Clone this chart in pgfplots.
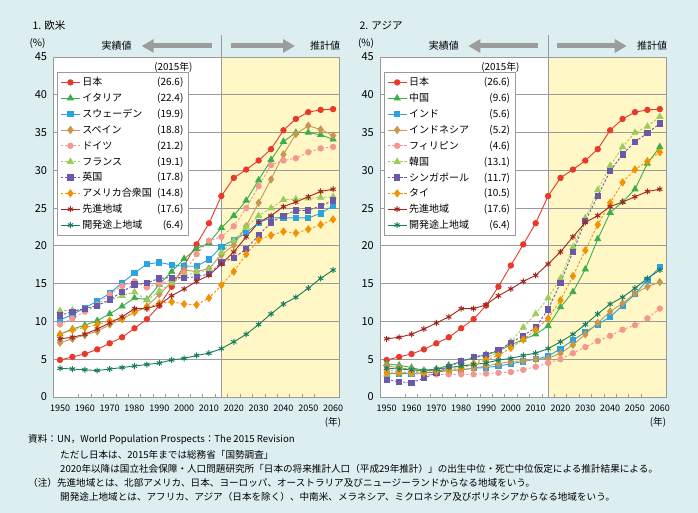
\documentclass[border=0pt]{standalone}
\usepackage{fontspec}
\setmainfont{Noto Sans CJK JP}
\usepackage{pgfplots}
\pgfplotsset{compat=1.18}
\usepackage{pgfplotstable}
\usetikzlibrary{arrows.meta}

\definecolor{bgc}{HTML}{DDEEF1}
\definecolor{yel}{HTML}{FFF8C6}
\definecolor{gridc}{HTML}{9A9A9A}
\definecolor{arr}{HTML}{9C9C9C}
\definecolor{cjp}{HTML}{E8392A}
\definecolor{cgr}{HTML}{3DAE49}
\definecolor{cbl}{HTML}{2AA3E0}
\definecolor{ctn}{HTML}{C9964F}
\definecolor{csa}{HTML}{F4978E}
\definecolor{clg}{HTML}{9ACD5B}
\definecolor{cpu}{HTML}{6B58A8}
\definecolor{cor}{HTML}{F39200}
\definecolor{cdv}{HTML}{A4261E}
\definecolor{cld}{HTML}{177D5E}

\pgfplotstableread{
year jp it se es de fr uk us dv ld
1950 4.9 8.3 10.2 7.2 9.6 11.4 10.8 8.3 7.7 3.8
1955 5.3 9.0 10.9 7.7 10.4 11.5 11.3 8.9 7.9 3.7
1960 5.7 9.5 11.8 8.2 11.3 11.6 11.7 9.2 8.3 3.6
1965 6.3 10.1 12.7 8.7 12.2 12.1 12.1 9.6 9.0 3.5
1970 7.1 11.0 13.7 9.6 13.6 12.8 12.9 10.1 9.8 3.7
1975 7.9 12.0 15.1 10.3 14.7 13.4 13.9 10.4 10.6 3.9
1980 9.1 13.1 16.4 11.2 15.3 13.9 14.9 11.3 11.7 4.1
1985 10.3 12.9 17.6 12.0 14.5 12.8 15.1 11.8 11.7 4.3
1990 12.1 14.9 17.8 13.6 15.0 14.0 15.7 12.4 12.2 4.5
1995 14.6 16.6 17.5 15.2 15.5 15.1 15.8 12.6 13.4 4.9
2000 17.4 18.3 17.3 16.8 16.4 16.0 15.8 12.3 14.3 5.1
2005 20.2 19.6 17.3 16.6 18.9 16.5 15.9 12.2 15.3 5.5
2010 23.0 20.4 18.2 17.0 20.7 16.8 16.3 13.1 16.1 5.8
2015 26.6 22.4 19.9 18.8 21.2 19.1 17.8 14.8 17.6 6.4
2020 29.0 24.0 20.8 20.1 22.6 20.7 18.4 16.6 19.2 7.3
2025 30.1 26.0 21.7 22.6 25.0 22.5 19.6 18.9 21.2 8.3
2030 31.3 28.7 23.1 25.7 27.9 24.0 21.4 20.8 23.1 9.6
2035 32.8 31.4 23.7 28.8 30.7 25.0 23.1 21.4 24.0 11.0
2040 35.3 33.8 23.7 32.1 31.3 26.1 24.0 21.9 25.2 12.3
2045 36.8 35.0 23.7 34.8 31.6 26.2 24.7 21.7 25.8 13.2
2050 37.7 35.0 23.7 35.9 32.4 26.3 24.7 22.2 26.5 14.4
2055 38.0 34.7 24.3 35.4 32.9 26.4 25.3 22.8 27.2 15.7
2060 38.1 34.1 25.3 34.6 33.1 26.5 26.0 23.5 27.5 16.8
}\tabEU

\pgfplotstableread{
year jp cn in id ph kr sg th dv ld
1950 4.9 4.4 3.1 4.1 3.6 3.0 2.3 3.2 7.7 3.8
1955 5.3 4.2 3.1 3.9 3.3 3.2 2.0 3.2 7.9 3.7
1960 5.7 3.9 3.1 3.6 3.1 3.4 1.9 3.2 8.3 3.6
1965 6.3 3.5 3.2 3.5 3.0 3.4 2.5 3.2 9.0 3.5
1970 7.1 3.7 3.3 3.5 3.0 3.5 3.2 3.4 9.8 3.7
1975 7.9 4.2 3.5 3.5 3.0 3.7 4.0 3.6 10.6 3.9
1980 9.1 4.7 3.6 3.6 3.0 4.0 4.7 3.8 11.7 4.1
1985 10.3 5.2 3.8 3.8 3.0 4.5 5.3 4.4 11.7 4.3
1990 12.1 5.6 3.9 4.1 3.1 5.2 5.6 4.9 12.2 4.5
1995 14.6 6.1 4.1 4.4 3.2 5.9 6.2 5.5 13.4 4.9
2000 17.4 6.9 4.4 4.7 3.3 7.3 7.2 6.5 14.3 5.1
2005 20.2 7.6 4.7 4.8 3.6 9.2 8.1 7.6 15.3 5.5
2010 23.0 8.3 5.0 5.0 4.0 11.0 9.2 8.9 16.1 5.8
2015 26.6 9.4 5.4 5.1 4.5 13.1 11.6 10.4 17.6 6.4
2020 29.0 11.9 6.4 5.8 5.0 15.7 15.1 12.8 19.2 7.3
2025 30.1 13.9 7.5 6.9 5.8 19.8 19.2 16.0 21.2 8.3
2030 31.3 16.9 8.6 8.3 6.6 23.7 23.3 19.4 23.1 9.6
2035 32.8 20.9 9.6 9.8 7.4 27.4 26.6 22.8 24.0 11.0
2040 35.3 24.4 10.6 11.3 8.1 30.6 29.9 25.7 25.2 12.3
2045 36.8 25.8 12.1 12.4 8.9 33.1 32.1 28.4 25.8 13.2
2050 37.7 27.5 13.6 13.7 9.5 35.0 33.8 30.1 26.5 14.4
2055 38.0 30.9 15.5 14.6 10.4 35.8 34.9 31.2 27.2 15.7
2060 38.1 33.1 17.2 15.2 11.7 37.1 36.2 32.4 27.5 16.8
}\tabAS

\pgfplotsset{
  panel/.style={
    scale only axis, width=285.5pt, height=340pt,
    xmin=1947.5, xmax=2062.5, ymin=0, ymax=45,
    xtick={1950,1960,...,2060},
    xticklabels={1950,1960,1970,1980,1990,2000,2010,2020,2030,2040,2050,2060},
    minor xtick={1957.5,1962.5,...,2052.5},
    ytick={0,5,...,45},
    tick pos=left, tick align=inside,
    major tick length=0pt, minor tick length=3.2pt,
    minor tick style={gridc, line width=0.6pt},
    ymajorgrids, grid style={color=gridc, line width=0.8pt},
    axis line style={gridc, line width=0.8pt},
    /pgf/number format/assume math mode=true,
    xticklabel style={font=\fontsize{9}{10}\selectfont, inner sep=0pt, yshift=-7.5pt},
    yticklabel style={font=\fontsize{11}{12}\selectfont, inner sep=0pt, xshift=-6.5pt},
    legend cell align=left,
    legend image code/.code={\draw[mark repeat=2,mark phase=2,##1] plot coordinates {(0pt,0pt) (9.5pt,0pt) (19pt,0pt)};},
    legend style={at={(0,1)}, anchor=north west, xshift=3.5pt, yshift=-15.3pt,
      draw=gridc, fill=white, inner xsep=3pt, inner ysep=2pt,
      font=\fontsize{10}{11}\selectfont, row sep=0pt,
      nodes={inner ysep=0pt, minimum height=15.85pt}},
  },
  ln/.style={line width=0.9pt, mark options={solid}},
  dsh/.style={dash pattern=on 2.4pt off 1.8pt},
  sjp/.style={ln, color=cjp, mark=*, mark size=2.7pt},
  sgr/.style={ln, color=cgr, mark=triangle*, mark size=3.4pt},
  sbl/.style={ln, color=cbl, mark=square*, mark size=2.6pt},
  stn/.style={ln, color=ctn, mark=diamond*, mark size=3.5pt},
  ssa/.style={ln, dsh, color=csa, mark=*, mark size=2.7pt},
  slg/.style={ln, dsh, color=clg, mark=triangle*, mark size=3.4pt},
  spu/.style={ln, dsh, color=cpu, mark=square*, mark size=2.6pt},
  sor/.style={ln, dsh, color=cor, mark=diamond*, mark size=3.5pt},
  sdv/.style={ln, color=cdv, mark=asterisk, mark size=3pt, mark options={solid, line width=1pt}},
  sld/.style={ln, color=cld, mark=asterisk, mark size=3pt, mark options={solid, line width=1pt}},
}
\newcommand{\legent}[2]{\makebox[70pt][l]{#1}\makebox[31pt][r]{#2}}

\begin{document}
\begin{tikzpicture}[x=1pt,y=1pt]
\fill[bgc] (0,0) rectangle (698,513);
\useasboundingbox (0,0) rectangle (698,513);
% plot areas
\fill[white] (53.8,116) rectangle (339.3,456);
\fill[yel] (221.3,116) rectangle (339.3,456);
\fill[white] (380.5,116) rectangle (666.0,456);
\fill[yel] (548.2,116) rectangle (666.0,456);
\draw[gridc, line width=0.8pt] (221.3,116) -- (221.3,478);
\draw[gridc, line width=0.8pt] (548.2,116) -- (548.2,478);
% headers
\node[anchor=west, font=\fontsize{10.5}{12}\selectfont] at (29,487.3) {1. 欧米};
\node[anchor=west, font=\fontsize{10.5}{12}\selectfont] at (356,487.3) {2. アジア};
\node[font=\fontsize{10}{12}\selectfont] at (37.5,469.7) {(\%)};
\node[font=\fontsize{10}{12}\selectfont] at (366,469.7) {(\%)};
\node[font=\fontsize{10}{12}\selectfont] at (116.7,467) {実績値};
\node[font=\fontsize{10}{12}\selectfont] at (325,467) {推計値};
\node[font=\fontsize{10}{12}\selectfont] at (443.8,467) {実績値};
\node[font=\fontsize{10}{12}\selectfont] at (652,467) {推計値};
\draw[arr, line width=5pt, -{Triangle[length=12pt,width=13pt]}] (212,467) -- (141.7,467);
\draw[arr, line width=5pt, -{Triangle[length=12pt,width=13pt]}] (231,467) -- (295,467);
\draw[arr, line width=5pt, -{Triangle[length=12pt,width=13pt]}] (538.3,467) -- (468.3,467);
\draw[arr, line width=5pt, -{Triangle[length=12pt,width=13pt]}] (557.3,467) -- (626.7,467);
\node[anchor=east, font=\fontsize{9.8}{11}\selectfont] at (196,445.3) {(2015年)};
\node[anchor=east, font=\fontsize{9.8}{11}\selectfont] at (523,445.3) {(2015年)};
\node[font=\fontsize{9.6}{11}\selectfont] at (333,91) {(年)};
\node[font=\fontsize{9.6}{11}\selectfont] at (658,91) {(年)};

\begin{axis}[panel, at={(53.8pt,116pt)}, anchor=south west]
\addplot[sjp] table[x=year,y=jp]{\tabEU}; \addlegendentry{\legent{日本}{(26.6)}}
\addplot[sgr] table[x=year,y=it]{\tabEU}; \addlegendentry{\legent{イタリア}{(22.4)}}
\addplot[sbl] table[x=year,y=se]{\tabEU}; \addlegendentry{\legent{スウェーデン}{(19.9)}}
\addplot[stn] table[x=year,y=es]{\tabEU}; \addlegendentry{\legent{スペイン}{(18.8)}}
\addplot[ssa] table[x=year,y=de]{\tabEU}; \addlegendentry{\legent{ドイツ}{(21.2)}}
\addplot[slg] table[x=year,y=fr]{\tabEU}; \addlegendentry{\legent{フランス}{(19.1)}}
\addplot[spu] table[x=year,y=uk]{\tabEU}; \addlegendentry{\legent{英国}{(17.8)}}
\addplot[sor] table[x=year,y=us]{\tabEU}; \addlegendentry{\legent{アメリカ合衆国}{(14.8)}}
\addplot[sdv] table[x=year,y=dv]{\tabEU}; \addlegendentry{\legent{先進地域}{(17.6)}}
\addplot[sld] table[x=year,y=ld]{\tabEU}; \addlegendentry{\legent{開発途上地域}{(6.4)}}
\end{axis}

\begin{axis}[panel, at={(380.5pt,116pt)}, anchor=south west]
\addplot[sjp] table[x=year,y=jp]{\tabAS}; \addlegendentry{\legent{日本}{(26.6)}}
\addplot[sgr] table[x=year,y=cn]{\tabAS}; \addlegendentry{\legent{中国}{(9.6)}}
\addplot[sbl] table[x=year,y=in]{\tabAS}; \addlegendentry{\legent{インド}{(5.6)}}
\addplot[stn] table[x=year,y=id]{\tabAS}; \addlegendentry{\legent{インドネシア}{(5.2)}}
\addplot[ssa] table[x=year,y=ph]{\tabAS}; \addlegendentry{\legent{フィリピン}{(4.6)}}
\addplot[slg] table[x=year,y=kr]{\tabAS}; \addlegendentry{\legent{韓国}{(13.1)}}
\addplot[spu] table[x=year,y=sg]{\tabAS}; \addlegendentry{\legent{シンガポール}{(11.7)}}
\addplot[sor] table[x=year,y=th]{\tabAS}; \addlegendentry{\legent{タイ}{(10.5)}}
\addplot[sdv] table[x=year,y=dv]{\tabAS}; \addlegendentry{\legent{先進地域}{(17.6)}}
\addplot[sld] table[x=year,y=ld]{\tabAS}; \addlegendentry{\legent{開発途上地域}{(6.4)}}
\end{axis}

% footnotes
\begin{scope}[every node/.style={anchor=west, font=\fontsize{9.6}{11}\selectfont, inner sep=0pt}]
\node at (28,73) {資料：UN，World Population Prospects：The 2015 Revision};
\node at (60,58) {ただし日本は、2015年までは総務省「国勢調査」};
\node at (60,44) {2020年以降は国立社会保障・人口問題研究所「日本の将来推計人口（平成29年推計）」の出生中位・死亡中位仮定による推計結果による。};
\node at (28,30) {（注）先進地域とは、北部アメリカ、日本、ヨーロッパ、オーストラリア及びニュージーランドからなる地域をいう。};
\node at (60,16) {開発途上地域とは、アフリカ、アジア（日本を除く）、中南米、メラネシア、ミクロネシア及びポリネシアからなる地域をいう。};
\end{scope}
\end{tikzpicture}
\end{document}
